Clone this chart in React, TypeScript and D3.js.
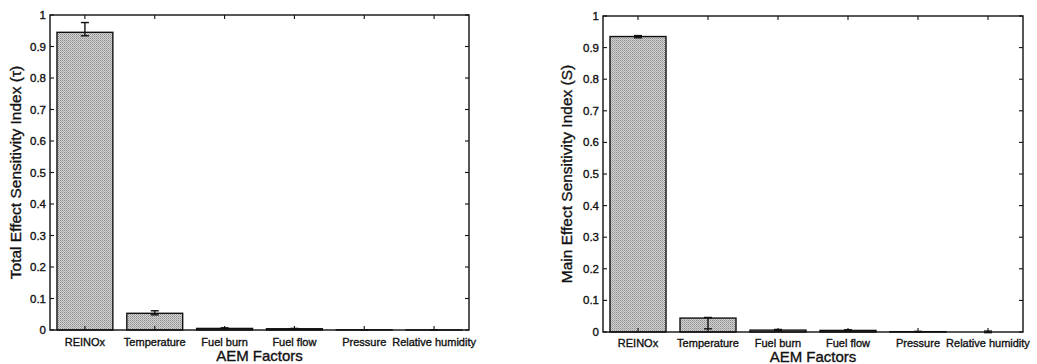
import React from "react";
import * as d3 from "d3";

const categories = ["REINOx", "Temperature", "Fuel burn", "Fuel flow", "Pressure", "Relative humidity"];
const totalValues = [0.945, 0.053, 0.005, 0.004, 0.0005, 0.0003];
const totalLow = [0.934, 0.048, 0.004, 0.003, 0.0, 0.0];
const totalHigh = [0.976, 0.061, 0.007, 0.005, 0.001, 0.001];
const mainValues = [0.935, 0.044, 0.006, 0.005, 0.001, 0.0];
const mainLow = [0.931, 0.01, 0.004, 0.003, 0.0, -0.002];
const mainHigh = [0.938, 0.046, 0.008, 0.007, 0.002, 0.003];
const yTicks = [0, 0.1, 0.2, 0.3, 0.4, 0.5, 0.6, 0.7, 0.8, 0.9, 1];

const FONT = "'Liberation Sans', Arial, Helvetica, sans-serif";

type PanelProps = {
  x0: number; x1: number; y0: number; y1: number;
  values: number[]; low: number[]; high: number[];
  ylabel: string; ylabelX: number; id: string; xlabelY: number; tickLabelY: number;
};

function Panel({ x0, x1, y0, y1, values, low, high, ylabel, ylabelX, id, xlabelY, tickLabelY }: PanelProps) {
  const xs = d3.scaleLinear().domain([0.5, categories.length + 0.5]).range([x0, x1]);
  const ys = d3.scaleLinear().domain([0, 1]).range([y1, y0]);
  const bw = (xs(1.4) - xs(0.6));
  const tickLen = 4;
  const cap = 4;
  const txt = { fontFamily: FONT, fill: "#111", stroke: "#111", strokeWidth: 0.35 };
  return (
    <g>
      <defs>
        <pattern id={id} width="2" height="2" patternUnits="userSpaceOnUse">
          <rect width="2" height="2" fill="#d2d2d2" />
          <rect width="1" height="1" fill="#8e8e8e" />
          <rect x="1" y="1" width="1" height="1" fill="#acacac" />
        </pattern>
      </defs>
      {values.map((v, i) => {
        const cx = xs(i + 1);
        const top = ys(v);
        return (
          <rect key={"b" + i} x={cx - bw / 2} y={top} width={bw} height={Math.max(ys(0) - top, 0)}
            fill={`url(#${id})`} stroke="#111" strokeWidth={1.4} />
        );
      })}
      {values.map((v, i) => {
        const cx = xs(i + 1);
        const a = ys(low[i]);
        const b = ys(high[i]);
        return (
          <g key={"e" + i} stroke="#111" strokeWidth={1.4}>
            <line x1={cx} x2={cx} y1={a} y2={b} />
            <line x1={cx - cap} x2={cx + cap} y1={a} y2={a} />
            <line x1={cx - cap} x2={cx + cap} y1={b} y2={b} />
          </g>
        );
      })}
      <rect x={x0} y={y0} width={x1 - x0} height={y1 - y0} fill="none" stroke="#111" strokeWidth={1.4} />
      {yTicks.map((t, i) => (
        <g key={"yt" + i}>
          <line x1={x0} x2={x0 + tickLen} y1={ys(t)} y2={ys(t)} stroke="#111" strokeWidth={1.1} />
          <line x1={x1} x2={x1 - tickLen} y1={ys(t)} y2={ys(t)} stroke="#111" strokeWidth={1.1} />
          <text x={x0 - 4} y={ys(t)} dy="0.35em" textAnchor="end" fontSize={11.5} {...txt}>
            {d3.format("~g")(t)}
          </text>
        </g>
      ))}
      {categories.map((c, i) => (
        <g key={"xt" + i}>
          <line x1={xs(i + 1)} x2={xs(i + 1)} y1={y0} y2={y0 + tickLen} stroke="#111" strokeWidth={1.1} />
          <line x1={xs(i + 1)} x2={xs(i + 1)} y1={y1} y2={y1 - tickLen} stroke="#111" strokeWidth={1.1} />
          <text x={xs(i + 1)} y={tickLabelY} textAnchor="middle" fontSize={11} {...txt}>
            {c}
          </text>
        </g>
      ))}
      <text x={(x0 + x1) / 2} y={xlabelY} textAnchor="middle" fontSize={15} {...txt}>
        AEM Factors
      </text>
      <text transform={`translate(${ylabelX},${(y0 + y1) / 2}) rotate(-90)`} dy="0.35em" textAnchor="middle"
        fontSize={15.5} {...txt}>
        {ylabel}
      </text>
    </g>
  );
}

export default function App() {
  return (
    <svg width={1037} height={364} style={{ position: "absolute", left: 0, top: 0, background: "#fff" }}>
      <rect width={1037} height={364} fill="#fff" />
      <Panel x0={50} x1={469} y0={15} y1={330} values={totalValues} low={totalLow} high={totalHigh}
        ylabel="Total Effect Sensitivity Index (τ)" ylabelX={16} id="pat1" xlabelY={360.5} tickLabelY={345.5} />
      <Panel x0={603} x1={1023} y0={16} y1={332} values={mainValues} low={mainLow} high={mainHigh}
        ylabel="Main Effect Sensitivity Index (S)" ylabelX={567} id="pat2" xlabelY={362} tickLabelY={346.5} />
    </svg>
  );
}
